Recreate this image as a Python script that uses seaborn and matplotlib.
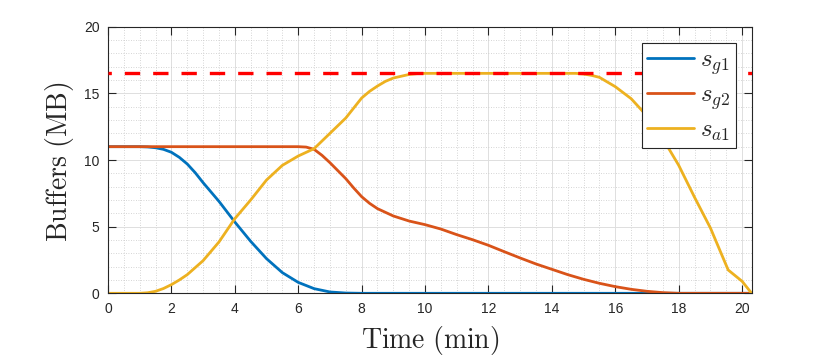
import numpy as np
import pandas as pd
import matplotlib
matplotlib.use("Agg")
import matplotlib.pyplot as plt
import seaborn as sns
from matplotlib.ticker import MultipleLocator

# ---------------- data ----------------
t_g1 = [0, 0.5, 1.0, 1.25, 1.5, 1.75, 2.0, 2.25, 2.5, 2.75, 3.0, 3.5, 4.0, 4.5, 5.0, 5.5,
        6.0, 6.5, 7.0, 7.5, 8.0, 20.3]
s_g1 = [11, 11, 11, 10.98, 10.92, 10.8, 10.58, 10.2, 9.7, 9.05, 8.3, 6.9, 5.35, 3.9, 2.6, 1.55,
        0.82, 0.35, 0.1, 0.02, 0, 0]

t_g2 = [0, 6.0, 6.25, 6.5, 6.75, 7.0, 7.5, 7.75, 8.0, 8.25, 8.5, 9.0, 9.5, 10.0, 10.5, 11.0,
        11.5, 12.0, 12.5, 13.0, 13.5, 14.0, 14.5, 15.0, 15.5, 16.0, 16.5, 17.0, 17.5, 18.0, 20.3]
s_g2 = [11, 11, 10.97, 10.8, 10.35, 9.8, 8.6, 7.9, 7.25, 6.75, 6.35, 5.8, 5.42, 5.15, 4.82, 4.4,
        4.02, 3.6, 3.12, 2.65, 2.2, 1.8, 1.4, 1.05, 0.75, 0.5, 0.3, 0.15, 0.05, 0, 0]

t_a1 = [0, 0.5, 1.0, 1.25, 1.5, 1.75, 2.0, 2.25, 2.5, 3.0, 3.5, 4.0, 4.5, 5.0, 5.5, 6.0, 6.5,
        7.0, 7.5, 7.75, 8.0, 8.25, 8.5, 8.75, 9.0, 9.5, 9.75, 10.0, 14.75, 15.0, 15.25, 15.5,
        16.0, 16.5, 17.0, 17.5, 18.0, 18.5, 19.0, 19.56, 20.0, 20.3]
s_a1 = [0, 0, 0, 0.04, 0.15, 0.36, 0.65, 1.0, 1.4, 2.45, 3.85, 5.6, 7.0, 8.5, 9.6, 10.3, 10.85,
        12.0, 13.15, 13.9, 14.65, 15.15, 15.55, 15.9, 16.15, 16.42, 16.48, 16.5, 16.5, 16.45,
        16.35, 16.2, 15.5, 14.6, 13.3, 11.6, 9.6, 7.2, 4.9, 1.75, 0.9, 0]

s_max = 16.5
x_ticks = [0, 2, 4, 6, 8, 10, 12, 14, 16, 18, 20]
y_ticks = [0, 5, 10, 15, 20]
labels = [r"$s_{g1}$", r"$s_{g2}$", r"$s_{a1}$"]
colors = ["#0072BD", "#D95319", "#EDB120"]

# ---------------- style ----------------
sns.set_style("ticks")
plt.rcParams["font.family"] = ["Liberation Sans", "DejaVu Sans"]
plt.rcParams["mathtext.fontset"] = "cm"

fig = plt.figure(figsize=(8.3, 3.56), dpi=100)
ax = fig.add_axes([0.1301, 0.1761, 0.7755, 0.7489])

series = [(t_g1, s_g1), (t_g2, s_g2), (t_a1, s_a1)]
for (tt, ss), lab, col in zip(series, labels, colors):
    df = pd.DataFrame({"t": tt, "s": ss})
    sns.lineplot(data=df, x="t", y="s", ax=ax, color=col, lw=2.0, label=lab,
                 sort=False, estimator=None)

ax.axhline(s_max, color="#FF0000", lw=2.4, linestyle=(3.6, (4.6, 3.9)), zorder=5)

ax.set_xlim(0, 20.3)
ax.set_ylim(0, 20)
ax.set_xticks(x_ticks)
ax.set_yticks(y_ticks)
ax.xaxis.set_minor_locator(MultipleLocator(0.5))
ax.yaxis.set_minor_locator(MultipleLocator(1))

ax.grid(True, which="major", color="#dedede", lw=0.7)
ax.grid(True, which="minor", color="#c8c8c8", lw=0.6, linestyle=(0, (1, 2)))
ax.set_axisbelow(True)

ax.tick_params(which="major", direction="in", length=6, width=0.8, color="#262626",
               top=True, right=True, labelsize=10, labelcolor="#262626", pad=6)
ax.tick_params(which="minor", length=0, top=True, right=True)
for sp in ax.spines.values():
    sp.set_color("#262626")
    sp.set_linewidth(0.8)
    sp.set_visible(True)

ax.set_xlabel(r"$\mathrm{Time\ (min)}$", fontsize=20)
ax.set_ylabel(r"$\mathrm{Buffers\ (MB)}$", fontsize=20)
ax.xaxis.set_label_coords(0.5, -0.115)
ax.yaxis.set_label_coords(-0.05, 0.494)

leg = ax.legend(loc="upper right", bbox_to_anchor=(0.975, 0.9386), borderaxespad=0,
                fontsize=18, frameon=True, fancybox=False, framealpha=1,
                edgecolor="#262626", handlelength=1.9, handletextpad=0.25,
                borderpad=0.2, labelspacing=0.22)
leg.get_frame().set_linewidth(0.8)
leg.set_zorder(10)

fig.savefig("out.png", dpi=100)
